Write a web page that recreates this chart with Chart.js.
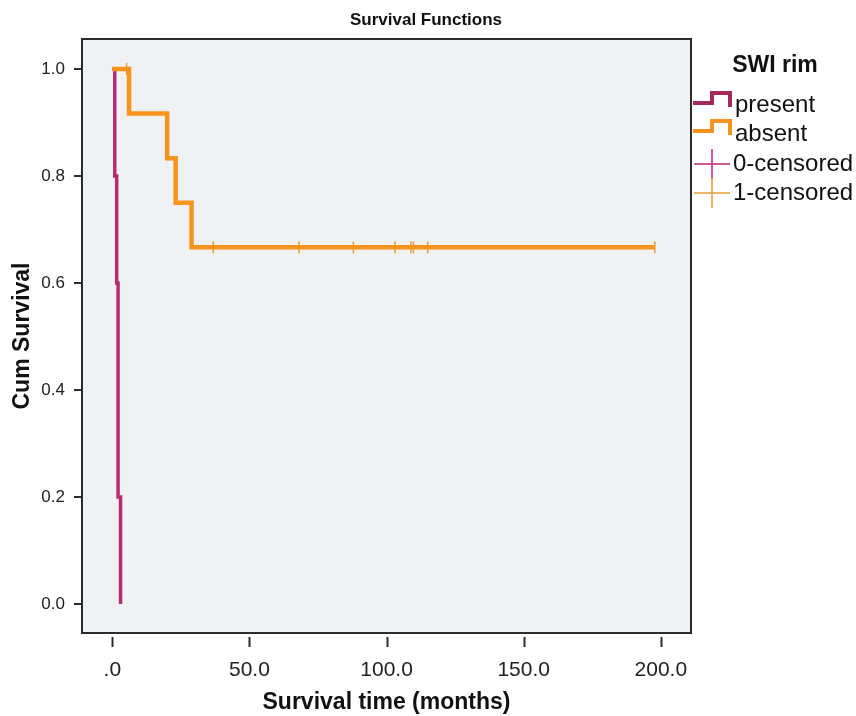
<!DOCTYPE html>
<html>
<head>
<meta charset="utf-8">
<script src="https://cdn.jsdelivr.net/npm/chart.js@4.4.1/dist/chart.umd.min.js"></script>
<style>
  html, body { margin: 0; padding: 0; background: #fff; }
  #wrap { width: 856px; height: 716px; }
</style>
</head>
<body>
<div id="wrap"><canvas id="kmChart" width="856" height="716"></canvas></div>
<script>
// Survival data (time in months, cumulative survival)
const presentTimes = [0, 0.9, 1.6, 2.1, 3.0];
const presentSurv = [1.0, 0.8, 0.6, 0.2, 0.0];

const absentTimes = [0, 6.1, 20.0, 23.1, 28.9, 197.8];
const absentSurv = [1.0, 0.9167, 0.8333, 0.75, 0.6667, 0.6667];

const absentCensorTimes = [5.2, 36.8, 68.1, 87.9, 103.1, 108.9, 109.8, 115.0, 197.8];
const absentCensorSurv = [1.0, 0.6667, 0.6667, 0.6667, 0.6667, 0.6667, 0.6667, 0.6667, 0.6667];

const xTicks = [0, 50, 100, 150, 200];
const xTickLabels = ['.0', '50.0', '100.0', '150.0', '200.0'];
const yTicks = [0, 0.2, 0.4, 0.6, 0.8, 1.0];
const yTickLabels = ['0.0', '0.2', '0.4', '0.6', '0.8', '1.0'];

const legendTitle = 'SWI rim';
const legendNames = ['present', 'absent', '0-censored', '1-censored'];

const chartTitle = 'Survival Functions';

const colPresent = '#b82a72';
const colPresentLeg = '#a52a5c';
const colAbsent = '#f7941d';
const colCensor = '#e3a03a';

const FONT = '"Liberation Sans", Arial, sans-serif';

function pts(xs, ys) {
    return xs.map((x, i) => ({ x: x, y: ys[i] }));
}

// background, frame, tick marks, title and the legend
const decor = {
    id: 'decor',
    beforeDraw(chart) {
        const { ctx, chartArea: a } = chart;
        ctx.save();
        ctx.fillStyle = '#f0f1f2';
        ctx.fillRect(a.left, a.top, a.right - a.left, a.bottom - a.top);
        ctx.restore();
    },
    afterDraw(chart) {
        const { ctx, chartArea: a } = chart;
        const xs = chart.scales.x, ys = chart.scales.y;
        ctx.save();
        ctx.strokeStyle = '#2b2b2b';
        ctx.lineWidth = 2;
        ctx.strokeRect(a.left, a.top, a.right - a.left, a.bottom - a.top);

        xTicks.forEach(v => {
            const px = Math.round(xs.getPixelForValue(v)) + 0.5;
            ctx.beginPath();
            ctx.moveTo(px, a.bottom + 4);
            ctx.lineTo(px, a.bottom + 14);
            ctx.stroke();
        });
        yTicks.forEach(v => {
            const py = Math.round(ys.getPixelForValue(v));
            ctx.beginPath();
            ctx.moveTo(a.left - 8, py);
            ctx.lineTo(a.left, py);
            ctx.stroke();
        });

        // chart title
        ctx.fillStyle = '#111';
        ctx.font = 'bold 17px ' + FONT;
        ctx.textAlign = 'center';
        ctx.textBaseline = 'alphabetic';
        ctx.fillText(chartTitle, 426, 25);

        // legend
        const lx = 693;
        ctx.font = 'bold 23px ' + FONT;
        ctx.fillText(legendTitle, 775, 72);

        // step icons
        [[colPresentLeg, 103], [colAbsent, 131]].forEach(([c, y]) => {
            ctx.strokeStyle = c;
            ctx.lineWidth = 4;
            ctx.lineJoin = 'miter';
            ctx.beginPath();
            ctx.moveTo(lx, y);
            ctx.lineTo(lx + 19, y);
            ctx.lineTo(lx + 19, y - 10);
            ctx.lineTo(lx + 37, y - 10);
            ctx.lineTo(lx + 37, y + 4);
            ctx.stroke();
        });
        // censor icons
        [[colPresent, 164], [colCensor, 193]].forEach(([c, y]) => {
            ctx.strokeStyle = c;
            ctx.lineWidth = 1.5;
            ctx.beginPath();
            ctx.moveTo(lx + 1, y);
            ctx.lineTo(lx + 37, y);
            ctx.moveTo(lx + 19, y - 15);
            ctx.lineTo(lx + 19, y + 15);
            ctx.stroke();
        });

        ctx.textAlign = 'left';
        ctx.fillStyle = '#111';
        ctx.font = '24px ' + FONT;
        ctx.fillText(legendNames[0], 735, 112);
        ctx.fillText(legendNames[1], 735, 141);
        ctx.fillText(legendNames[2], 733, 171);
        ctx.fillText(legendNames[3], 733, 200);
        ctx.restore();
    }
};

const canvas = document.getElementById('kmChart');
const ctx = canvas.getContext('2d');

new Chart(ctx, {
    type: 'line',
    data: {
        datasets: [
            {
                label: legendNames[1],
                data: pts(absentTimes, absentSurv),
                stepped: 'before',
                borderColor: colAbsent,
                borderWidth: 4.5,
                pointRadius: 0,
                fill: false
            },
            {
                label: legendNames[3],
                type: 'scatter',
                data: pts(absentCensorTimes, absentCensorSurv),
                showLine: false,
                pointStyle: 'line',
                rotation: 90,
                pointRadius: 6,
                pointBorderWidth: 1.5,
                borderColor: colCensor,
                backgroundColor: colCensor
            },
            {
                label: legendNames[0],
                data: pts(presentTimes, presentSurv),
                stepped: 'before',
                borderColor: colPresent,
                borderWidth: 3.5,
                pointRadius: 0,
                fill: false
            }
        ]
    },
    options: {
        responsive: false,
        animation: false,
        layout: {
            padding: { left: 0, top: 39, right: 165, bottom: 0 }
        },
        plugins: {
            legend: { display: false },
            title: { display: false },
            tooltip: { enabled: false }
        },
        scales: {
            x: {
                type: 'linear',
                min: -11.05,
                max: 211.0,
                afterFit: s => { s.height = 83; },
                afterBuildTicks: s => { s.ticks = xTicks.map(v => ({ value: v })); },
                grid: { display: false },
                border: { display: false },
                ticks: {
                    padding: 17,
                    maxRotation: 0,
                    color: '#222',
                    font: { family: FONT, size: 21 },
                    callback: (v) => xTickLabels[xTicks.indexOf(v)]
                },
                title: {
                    display: true,
                    text: 'Survival time (months)',
                    color: '#111',
                    padding: { top: 0, bottom: 0 },
                    font: { family: FONT, size: 23, weight: 'bold' }
                }
            },
            y: {
                type: 'linear',
                min: -0.054,
                max: 1.056,
                afterFit: s => { s.width = 82; },
                afterBuildTicks: s => { s.ticks = yTicks.map(v => ({ value: v })); },
                grid: { display: false },
                border: { display: false },
                ticks: {
                    padding: 9,
                    color: '#222',
                    font: { family: FONT, size: 17 },
                    callback: (v) => yTickLabels[yTicks.indexOf(v)]
                },
                title: {
                    display: true,
                    text: 'Cum Survival',
                    color: '#111',
                    padding: { top: 9, bottom: 0 },
                    font: { family: FONT, size: 23, weight: 'bold' }
                }
            }
        }
    },
    plugins: [decor]
});
</script>
</body>
</html>
